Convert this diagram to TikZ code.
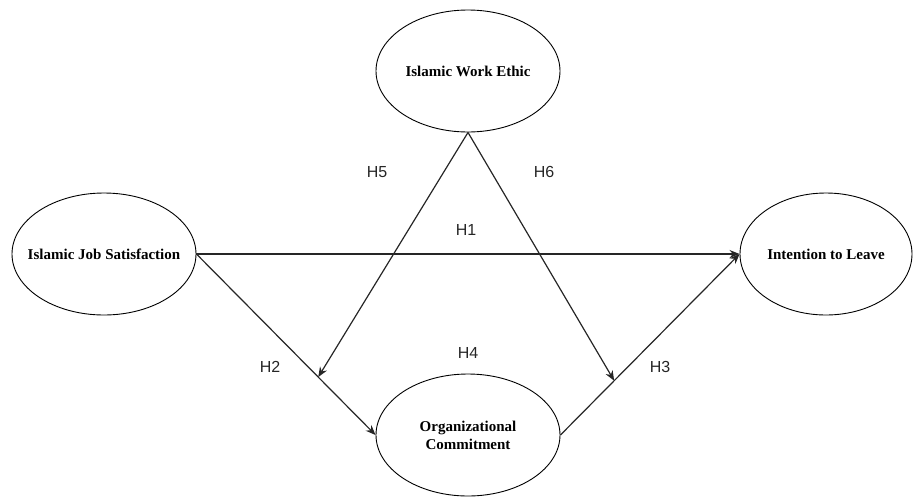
\documentclass[tikz,border=0pt]{standalone}
\usepackage{fontspec}
\setmainfont{Liberation Serif}
\newfontfamily\labelfont{Liberation Sans}
\usetikzlibrary{shapes.geometric,arrows.meta}
\begin{document}
\begin{tikzpicture}[x=1pt,y=-1pt,
  construct/.style={draw=black,line width=0.9pt,ellipse,inner xsep=-25pt,inner ysep=0pt,minimum width=184pt,minimum height=122pt,font=\fontsize{15}{18}\selectfont\bfseries,align=center},
  path/.style={draw=black!85,line width=1.2pt,-{Stealth[length=10pt,width=8pt]}},
  hlabel/.style={font=\labelfont\fontsize{16}{18}\selectfont,text=black!85}]
\useasboundingbox (0,0) rectangle (913,496);
\node[construct] (ijs) at (104,254) {Islamic Job Satisfaction};
\node[construct] (iwe) at (468,71) {Islamic Work Ethic};
\node[construct,minimum width=172pt] (itl) at (826,254) {Intention to Leave};
\node[construct] (oc) at (468,435) {Organizational\\Commitment};
\draw[path] (ijs.east) -- (itl.west);
\draw[path] (ijs.east) -- (oc.west) coordinate[pos=0.68] (m1);
\draw[path] (oc.east) -- (itl.west) coordinate[pos=0.3] (m2);
\draw[path] (iwe.south) -- (m1);
\draw[path] (iwe.south) -- (m2);
\node[hlabel] (h1) at (466,230) {H1};
\node[hlabel] (h2) at (270,367) {H2};
\node[hlabel] (h3) at (660,367) {H3};
\node[hlabel] (h4) at (468,353) {H4};
\node[hlabel] (h5) at (377,172) {H5};
\node[hlabel] (h6) at (544,172) {H6};
\end{tikzpicture}
\end{document}
